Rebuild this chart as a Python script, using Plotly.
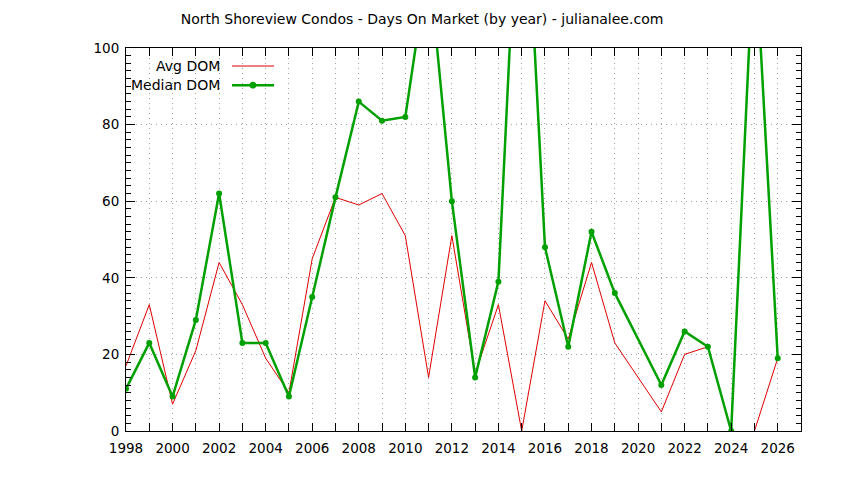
import plotly.graph_objects as go

years = [1998, 1999, 2000, 2001, 2002, 2003, 2004, 2005, 2006, 2007, 2008, 2009, 2010,
         2011, 2012, 2013, 2014, 2015, 2016, 2017, 2018, 2019, 2021, 2022, 2023, 2024,
         2025, 2026]
avg_dom = [17, 33, 7, 21, 44, 33, 19, 10, 45, 61, 59, 62, 51,
           14, 51, 15, 33, 0, 34, 24, 44, 23, 5, 20, 22, None,
           0, 19]
median_dom = [11, 23, 9, 29, 62, 23, 23, 9, 35, 61, 86, 81, 82,
              123, 60, 14, 39, 165, 48, 22, 52, 36, 12, 26, 22, 0,
              130, 19]

title_text = "North Shoreview Condos - Days On Market (by year) - julianalee.com"
FONT = "DejaVu Sans"
RED = "#e00000"
GREEN = "#00a000"
GRIDC = "#a0a0a0"
GDASH = "1px,4px"

fig = go.Figure()
fig.add_trace(go.Scatter(x=years, y=avg_dom, mode="lines", name="Avg DOM",
                         line=dict(color=RED, width=1), connectgaps=False))
fig.add_trace(go.Scatter(x=years, y=median_dom, mode="lines+markers", name="Median DOM",
                         line=dict(color=GREEN, width=2.5),
                         marker=dict(color=GREEN, size=6, symbol="circle")))

fig.update_xaxes(range=[1998, 2027], tickmode="linear", tick0=1998, dtick=2,
                 ticks="inside", ticklen=8, tickcolor="black", mirror="ticks",
                 showline=True, linecolor="black", linewidth=1, zeroline=False,
                 ticklabelstandoff=5,
                 tickfont=dict(family=FONT, size=13.5, color="black"),
                 showgrid=True, gridcolor=GRIDC, griddash=GDASH, gridwidth=1,
                 minor=dict(dtick=1, tick0=1998, ticks="inside", ticklen=8,
                            tickcolor="black", showgrid=True, gridcolor=GRIDC,
                            griddash=GDASH, gridwidth=1))
fig.update_yaxes(range=[0, 100], tickmode="linear", tick0=0, dtick=20,
                 ticks="inside", ticklen=9, tickcolor="black", mirror="ticks",
                 showline=True, linecolor="black", linewidth=1, zeroline=False,
                 ticklabelstandoff=3,
                 tickfont=dict(family=FONT, size=13.5, color="black"),
                 showgrid=True, gridcolor=GRIDC, griddash=GDASH, gridwidth=1,
                 minor=dict(dtick=2, ticks="inside", ticklen=5, tickcolor="black",
                            showgrid=False))

# legend drawn gnuplot-style (text left, sample right)
leg_y = [0.953, 0.903]
names = ["Avg DOM", "Median DOM"]
for yy, nm in zip(leg_y, names):
    fig.add_annotation(xref="paper", yref="paper", x=0.1422, y=yy, text=nm,
                       showarrow=False, xanchor="right", yanchor="middle",
                       font=dict(family=FONT, size=14, color="black"))
fig.add_shape(type="line", xref="paper", yref="paper", x0=0.157, x1=0.2193,
              y0=leg_y[0], y1=leg_y[0], line=dict(color=RED, width=1))
fig.add_shape(type="line", xref="paper", yref="paper", x0=0.157, x1=0.2193,
              y0=leg_y[1], y1=leg_y[1], line=dict(color=GREEN, width=2.5))
fig.add_shape(type="circle", xref="paper", yref="paper", xsizemode="pixel",
              ysizemode="pixel", xanchor=0.188, yanchor=leg_y[1],
              x0=-3, x1=3, y0=-3, y1=3, fillcolor=GREEN, line=dict(color=GREEN, width=1))

fig.update_layout(
    width=828, height=464,
    margin=dict(l=118, r=35, t=40, b=41),
    paper_bgcolor="white", plot_bgcolor="white",
    showlegend=False,
    title=dict(text=title_text, x=0.5, xanchor="center", xref="container",
               y=1 - 11 / 464, yref="container", yanchor="middle",
               font=dict(family=FONT, size=14, color="black")),
    font=dict(family=FONT, color="black"),
)
fig.write_html("out.html")
